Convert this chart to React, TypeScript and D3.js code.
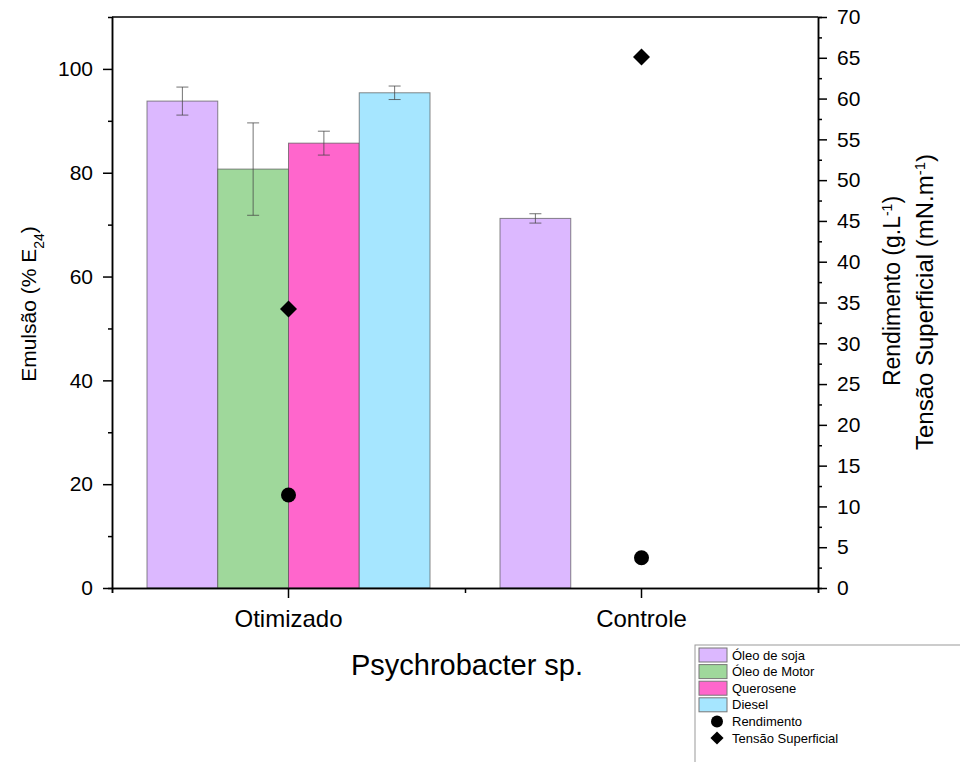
import React, { useEffect, useRef } from "react";
import * as d3 from "d3";

// groups on the x axis
const groups = ["Otimizado", "Controle"];
// emulsion series (left axis), null = no bar
const oils = ["Óleo de soja", "Óleo de Motor", "Querosene", "Diesel"];
const oilColors = ["#dcb8ff", "#9fd89b", "#ff66cc", "#a6e6ff"];
const emulsaoOtimizado = [93.8, 80.7, 85.7, 95.4];
const erroOtimizado = [2.7, 8.9, 2.3, 1.3];
const emulsaoControle = [71.2, null, null, null];
const erroControle = [0.9, null, null, null];
// right axis series
const rendimento = [11.4, 3.7];
const tensao = [34.2, 65.1];

const leftTicks = [0, 20, 40, 60, 80, 100];
const rightTicks = d3.range(0, 71, 5);

export default function App() {
  const ref = useRef<SVGSVGElement>(null);

  useEffect(() => {
    document.body.style.margin = "0";
    const W = 960,
      H = 762;
    const margin = { top: 17, right: 142, bottom: 174, left: 112 };
    const width = W - margin.left - margin.right,
      height = H - margin.top - margin.bottom;

    const svg = d3.select(ref.current);
    svg.selectAll("*").remove();
    const font = "'Liberation Sans', Arial, sans-serif";
    const g = svg
      .append("g")
      .attr("transform", `translate(${margin.left},${margin.top})`)
      .style("font-family", font);

    const x = d3.scaleBand().domain(groups).range([0, width]).padding(0);
    const groupW = 283;
    const xInner = d3.scaleBand().domain(oils).range([0, groupW]).padding(0);
    const yL = d3.scaleLinear().domain([0, 110]).range([height, 0]);
    const yR = d3.scaleLinear().domain([0, 70]).range([height, 0]);

    const table = [emulsaoOtimizado, emulsaoControle];
    const errs = [erroOtimizado, erroControle];

    // bars + error bars
    groups.forEach((grp, gi) => {
      const gx = x(grp)! + x.bandwidth() / 2 - groupW / 2;
      oils.forEach((oil, i) => {
        const v = table[gi][i];
        if (v == null) return;
        const bx = gx + xInner(oil)!;
        g.append("rect")
          .attr("x", bx)
          .attr("y", yL(v))
          .attr("width", xInner.bandwidth())
          .attr("height", height - yL(v))
          .attr("fill", oilColors[i])
          .attr("stroke", "#555")
          .attr("stroke-opacity", 0.7)
          .attr("stroke-width", 1);
        const e = errs[gi][i]!;
        const cx = bx + xInner.bandwidth() / 2;
        const eg = g
          .append("g")
          .attr("stroke", "#444")
          .attr("stroke-opacity", 0.75)
          .attr("stroke-width", 1);
        eg.append("line")
          .attr("x1", cx)
          .attr("x2", cx)
          .attr("y1", yL(v + e))
          .attr("y2", yL(v - e));
        [v + e, v - e].forEach((t) =>
          eg
            .append("line")
            .attr("x1", cx - 6)
            .attr("x2", cx + 6)
            .attr("y1", yL(t))
            .attr("y2", yL(t))
        );
      });
    });

    // frame top line
    g.append("line")
      .attr("x1", 0)
      .attr("x2", width)
      .attr("y1", 0)
      .attr("y2", 0)
      .attr("stroke", "#000")
      .attr("stroke-width", 1.5);

    const styleAxis = (sel: any, size = 21) => {
      sel.select(".domain").attr("stroke-width", 1.5);
      sel.selectAll(".tick line").attr("stroke-width", 1.5);
      sel
        .selectAll("text")
        .style("font-family", font)
        .style("font-size", size + "px")
        .attr("fill", "#000");
    };

    // left axis
    g.append("g")
      .call(d3.axisLeft(yL).tickValues([10, 30, 50, 70, 90]).tickSize(4).tickFormat(() => ""))
      .call(styleAxis);
    g.append("g")
      .call(d3.axisLeft(yL).tickValues(leftTicks).tickSize(9).tickSizeOuter(0).tickPadding(10))
      .call(styleAxis);

    // right axis
    const gr = g.append("g").attr("transform", `translate(${width},0)`);
    gr.append("g")
      .call(
        d3
          .axisRight(yR)
          .tickValues(d3.range(2.5, 70, 5))
          .tickSize(4)
          .tickFormat(() => "")
      )
      .call(styleAxis);
    gr.append("g")
      .call(d3.axisRight(yR).tickValues(rightTicks).tickSize(9).tickSizeOuter(0).tickPadding(10))
      .call(styleAxis);

    // bottom axis
    const gb = g.append("g").attr("transform", `translate(0,${height})`);
    gb.append("g")
      .call(
        d3
          .axisBottom(d3.scaleLinear().domain([0, 1]).range([0, width]))
          .tickValues([0, 0.5, 1])
          .tickSize(5)
          .tickFormat(() => "")
      )
      .call(styleAxis);
    gb.append("g")
      .call(d3.axisBottom(x).tickSize(10).tickSizeOuter(0).tickPadding(12))
      .call((s: any) => styleAxis(s, 24));

    // scatter series on right axis
    groups.forEach((grp, gi) => {
      const cx = x(grp)! + x.bandwidth() / 2;
      g.append("circle")
        .attr("cx", cx)
        .attr("cy", yR(rendimento[gi]))
        .attr("r", 7.5)
        .attr("fill", "#000");
      g.append("path")
        .attr("d", d3.symbol(d3.symbolDiamond2, 185)())
        .attr("transform", `translate(${cx},${yR(tensao[gi])})`)
        .attr("fill", "#000");
    });

    // axis titles
    const lt = svg
      .append("text")
      .attr("transform", `translate(36,304) rotate(-90)`)
      .attr("text-anchor", "middle")
      .style("font-family", font)
      .style("font-size", "21px");
    lt.append("tspan").text("Emulsão (% E");
    lt.append("tspan").attr("baseline-shift", "sub").style("font-size", "14px").text("24");
    lt.append("tspan").text(")");

    const rt1 = svg
      .append("text")
      .attr("transform", `translate(900,291) rotate(-90)`)
      .attr("text-anchor", "middle")
      .style("font-family", font)
      .style("font-size", "23px");
    rt1.append("tspan").text("Rendimento (g.L");
    rt1.append("tspan").attr("baseline-shift", "super").style("font-size", "14px").text("-1");
    rt1.append("tspan").text(")");

    const rt2 = svg
      .append("text")
      .attr("transform", `translate(933,302) rotate(-90)`)
      .attr("text-anchor", "middle")
      .style("font-family", font)
      .style("font-size", "24px");
    rt2.append("tspan").text("Tensão Superficial (mN.m");
    rt2.append("tspan").attr("baseline-shift", "super").style("font-size", "15px").text("-1");
    rt2.append("tspan").text(")");

    svg
      .append("text")
      .attr("x", margin.left + width / 2 + 2)
      .attr("y", 675)
      .attr("text-anchor", "middle")
      .style("font-family", font)
      .style("font-size", "29px")
      .text("Psychrobacter sp.");

    // legend
    const lg = svg.append("g").attr("transform", "translate(695,645)").style("font-family", font);
    lg.append("rect")
      .attr("x", 0)
      .attr("y", 0)
      .attr("width", 280)
      .attr("height", 120)
      .attr("fill", "#fff")
      .attr("stroke", "#999");
    const rowY = (i: number) => 10 + i * 16.6;
    oils.forEach((oil, i) => {
      lg.append("rect")
        .attr("x", 4)
        .attr("y", rowY(i) - 7)
        .attr("width", 28)
        .attr("height", 14)
        .attr("fill", oilColors[i])
        .attr("stroke", "#777");
      lg.append("text")
        .attr("x", 37)
        .attr("y", rowY(i) + 4.5)
        .style("font-size", "13px")
        .text(oil);
    });
    lg.append("circle").attr("cx", 22).attr("cy", rowY(4)).attr("r", 6).attr("fill", "#000");
    lg.append("text").attr("x", 37).attr("y", rowY(4) + 4.5).style("font-size", "13px").text("Rendimento");
    lg.append("path")
      .attr("d", d3.symbol(d3.symbolDiamond2, 110)())
      .attr("transform", `translate(22,${rowY(5)})`)
      .attr("fill", "#000");
    lg.append("text")
      .attr("x", 37)
      .attr("y", rowY(5) + 4.5)
      .style("font-size", "13px")
      .text("Tensão Superficial");
  }, []);

  return <svg ref={ref} width={960} height={762} style={{ display: "block" }} />;
}
